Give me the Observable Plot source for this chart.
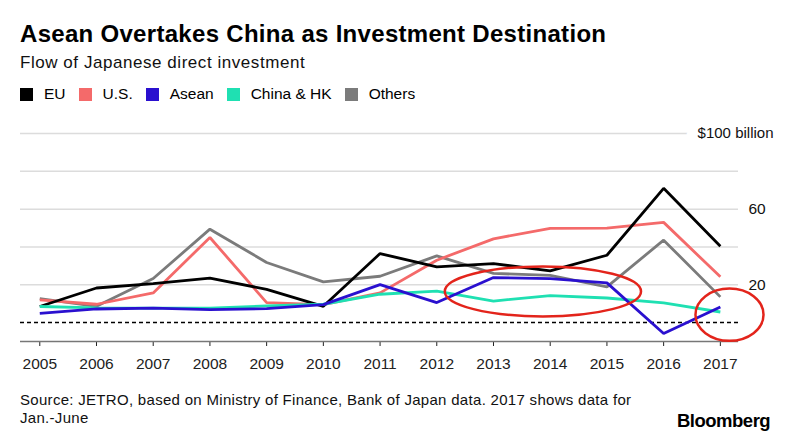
<!DOCTYPE html>
<html>
<head>
<meta charset="utf-8">
<script src="https://cdn.jsdelivr.net/npm/d3@7"></script>
<script src="https://cdn.jsdelivr.net/npm/@observablehq/plot@0.6"></script>
<style>
  html, body { margin: 0; padding: 0; background: #fff; }
  body { width: 800px; height: 440px; position: relative; overflow: hidden;
         font-family: "Liberation Sans", Arial, Helvetica, sans-serif; color: #000; }
  .title { position: absolute; left: 20px; top: 20px; font-size: 24px; font-weight: bold; letter-spacing: 0.3px; white-space: nowrap; }
  .subtitle { position: absolute; left: 20px; top: 53px; font-size: 17px; letter-spacing: 0.55px; color: #111; white-space: nowrap; }
  .legend { position: absolute; left: 20px; top: 85px; font-size: 15.5px; display: flex; align-items: center; }
  .legend span.item { display: inline-flex; align-items: center; }
  .legend span.sw { display: inline-block; width: 13px; height: 13px; margin-right: 11px; }
  #chart { position: absolute; left: 0; top: 110px; }
  .source { position: absolute; left: 20px; top: 391px; font-size: 15px; letter-spacing: 0.3px; line-height: 18px; color: #111; white-space: nowrap; }
  .brand { position: absolute; left: 677px; top: 410px; font-size: 18.5px; font-weight: bold; letter-spacing: -0.5px; }
</style>
</head>
<body>
<div class="title">Asean Overtakes China as Investment Destination</div>
<div class="subtitle">Flow of Japanese direct investment</div>
<div class="legend" id="legend"></div>
<div id="chart"></div>
<div class="source">Source: JETRO, based on Ministry of Finance, Bank of Japan data. 2017 shows data for<br>Jan.-June</div>
<div class="brand">Bloomberg</div>
<script>
// ---- data (billions of dollars) ----
const years   = [2005, 2006, 2007, 2008, 2009, 2010, 2011, 2012, 2013, 2014, 2015, 2016, 2017];
const eu      = [8.5, 18.3, 20.6, 23.5, 17.6, 8.6, 36.5, 29.5, 31.2, 27.3, 35.6, 71.0, 40.4];
const us      = [12.0, 9.7, 15.7, 45.0, 10.6, 9.5, 15.7, 33.0, 44.3, 49.8, 50.0, 53.0, 24.2];
const asean   = [4.9, 7.2, 7.7, 6.9, 7.4, 9.5, 20.1, 10.6, 23.8, 23.3, 21.0, -5.8, 8.3];
const chinaHK = [8.5, 7.8, 7.7, 7.7, 8.8, 9.7, 15.0, 16.6, 11.4, 14.3, 13.0, 10.4, 5.6];
const others  = [12.7, 8.6, 23.3, 49.4, 31.8, 21.5, 24.5, 35.3, 26.0, 25.0, 18.9, 43.6, 13.6];

const seriesNames  = ["EU", "U.S.", "Asean", "China & HK", "Others"];
const seriesColors = ["#000000", "#f46a6a", "#2a10cf", "#1fe0b2", "#7b7b7b"];
const drawOrder    = ["Others", "U.S.", "EU", "China & HK", "Asean"];

const gridTicks  = [20, 40, 60, 80, 100];
const yLabelTicks = [20, 60];
const topLabel = "$100 billion";

// annotation ellipses (data units: center year/value, radii in years/values)
const ellipses = [
  {cx: 2013.88, cy: 16.2, rx: 1.73, ry: 13.2},
  {cx: 2017.17, cy: 3.9, rx: 0.60, ry: 13.8}
];

// ---- build table ----
const valuesByName = {"EU": eu, "U.S.": us, "Asean": asean, "China & HK": chinaHK, "Others": others};
const rows = [];
for (const name of drawOrder) {
  valuesByName[name].forEach((v, i) => rows.push({series: name, year: years[i], value: v}));
}

// ---- legend ----
const legend = document.getElementById("legend");
seriesNames.forEach((name, i) => {
  const item = document.createElement("span");
  item.className = "item";
  item.style.marginRight = "13px";
  item.innerHTML = `<span class="sw" style="background:${seriesColors[i]}"></span>${name}`;
  legend.appendChild(item);
});

const ellipseMark = (index, scales) => {
  const g = document.createElementNS("http://www.w3.org/2000/svg", "g");
  for (const e of ellipses) {
    const el = document.createElementNS("http://www.w3.org/2000/svg", "ellipse");
    const cx = scales.x(e.cx), cy = scales.y(e.cy);
    el.setAttribute("cx", cx);
    el.setAttribute("cy", cy);
    el.setAttribute("rx", Math.abs(scales.x(e.cx + e.rx) - cx));
    el.setAttribute("ry", Math.abs(scales.y(e.cy + e.ry) - cy));
    el.setAttribute("fill", "none");
    el.setAttribute("stroke", "#e3241b");
    el.setAttribute("stroke-width", "2.5");
    g.appendChild(el);
  }
  return g;
};

const chart = Plot.plot({
  width: 800,
  height: 275,
  marginLeft: 20,
  marginRight: 62,
  marginTop: 23,
  marginBottom: 44,
  style: {fontFamily: "'Liberation Sans', Arial, sans-serif", fontSize: "15.5px", color: "#222", background: "transparent"},
  x: {domain: [2004.66, 2017.32], ticks: years, tickFormat: d => String(d), tickSize: 5, tickPadding: 11, label: null},
  y: {domain: [-10, 100], axis: null},
  color: {domain: seriesNames, range: seriesColors},
  marks: [
    Plot.ruleY(gridTicks, {stroke: "#dcdcdc", strokeWidth: 1.5}),
    Plot.ruleY([0], {stroke: "#000", strokeWidth: 1.5, strokeDasharray: "4,3"}),
    Plot.ruleY([-10], {stroke: "#777", strokeWidth: 1.5}),
    Plot.line(rows, {x: "year", y: "value", z: "series", stroke: "series", strokeWidth: 2.8, strokeLinejoin: "miter", strokeLinecap: "butt"}),
    Plot.text(yLabelTicks, {y: d => d, frameAnchor: "right", textAnchor: "start", dx: 10, text: d => String(d), fill: "#111", fontSize: 15.5}),
    Plot.text([topLabel], {y: 100, frameAnchor: "right", textAnchor: "end", dx: 35, text: d => d, fill: "#111", stroke: "white", strokeWidth: 22, strokeLinejoin: "round", fontSize: 15}),
    ellipseMark
  ]
});
document.getElementById("chart").appendChild(chart);
</script>
</body>
</html>
